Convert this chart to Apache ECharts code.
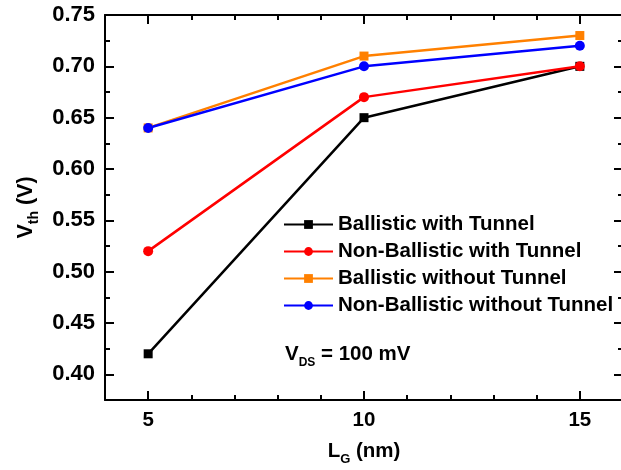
<!DOCTYPE html>
<html><head><meta charset="utf-8">
<script src="https://cdn.jsdelivr.net/npm/echarts@6/dist/echarts.min.js"></script>
<style>html,body{margin:0;padding:0;background:#fff}#c{width:621px;height:470px}</style>
</head><body><div id="c"></div>
<script>
const lengths = [5, 10, 15];
const ballisticTunnel = [0.42, 0.65, 0.70];
const nonBallisticTunnel = [0.52, 0.67, 0.70];
const ballisticNoTunnel = [0.64, 0.71, 0.73];
const nonBallisticNoTunnel = [0.64, 0.70, 0.72];
const seriesNames = ['Ballistic with Tunnel', 'Non-Ballistic with Tunnel', 'Ballistic without Tunnel', 'Non-Ballistic without Tunnel'];
const xTickLabels = [5, 10, 15];
const yTickLabels = [0.40, 0.45, 0.50, 0.55, 0.60, 0.65, 0.70, 0.75];

const FONT = 'Liberation Sans, Arial, sans-serif';
const chart = echarts.init(document.getElementById('c'), null, {renderer: 'canvas'});

const axLine = {show: true, onZero: false, lineStyle: {color: '#000', width: 2}};
const tickStyle = {color: '#000', width: 2};
const hiddenLabel = {show: true, color: 'rgba(0,0,0,0)', fontSize: 8};
function xAx(pos, grid, major, withLabel) {
  const a = {
    type: 'value', position: pos, gridIndex: grid, min: 4, max: 16,
    axisLine: major ? {show: false, onZero: false} : axLine,
    splitLine: {show: false},
    axisTick: {show: true, inside: true, length: major ? 9 : 5, lineStyle: tickStyle},
    axisLabel: Object.assign({}, hiddenLabel)
  };
  if (major) {
    a.axisTick.customValues = xTickLabels;
    a.axisLabel = withLabel
      ? {show: true, customValues: xTickLabels, margin: 10, color: '#000', fontSize: 20.5, fontWeight: 'bold', fontFamily: FONT}
      : Object.assign({customValues: xTickLabels}, hiddenLabel);
  } else {
    a.interval = 1;
  }
  return a;
}
function yAx(pos, grid, major, withLabel) {
  const a = {
    type: 'value', position: pos, gridIndex: grid, min: 0.375, max: 0.75,
    axisLine: major ? {show: false, onZero: false} : axLine,
    splitLine: {show: false},
    axisTick: {show: true, inside: true, length: major ? 9 : 5, lineStyle: tickStyle},
    axisLabel: Object.assign({}, hiddenLabel)
  };
  if (major) {
    a.axisTick.customValues = yTickLabels;
    a.axisLabel = withLabel
      ? {show: true, customValues: yTickLabels, margin: 10, color: '#000', fontSize: 22, fontWeight: 'bold', fontFamily: FONT, formatter: v => v.toFixed(2)}
      : Object.assign({customValues: yTickLabels}, hiddenLabel);
  } else {
    a.interval = 0.025;
  }
  return a;
}

const xAxes = [xAx('bottom', 0, false), xAx('top', 0, false), xAx('bottom', 1, true, true), xAx('top', 1, true, false)];
xAxes[2].name = '{v|L}{s|G}{v| (nm)}';
xAxes[2].nameLocation = 'middle';
xAxes[2].nameGap = 40;
xAxes[2].nameTextStyle = {rich: {
  v: {fontSize: 20.5, fontWeight: 'bold', fontFamily: FONT, color: '#000', lineHeight: 20},
  s: {fontSize: 13, fontWeight: 'bold', fontFamily: FONT, color: '#000', lineHeight: 13, padding: [17, 0, 0, 0]}
}};
const yAxes = [yAx('left', 0, false), yAx('right', 0, false), yAx('left', 1, true, true), yAx('right', 1, true, false)];
yAxes[2].name = '{v|V}{s|th}{v| (V)}';
yAxes[2].nameLocation = 'middle';
yAxes[2].nameGap = 66;
yAxes[2].nameTextStyle = {rich: {
  v: {fontSize: 21.5, fontWeight: 'bold', fontFamily: FONT, color: '#000', lineHeight: 21},
  s: {fontSize: 14, fontWeight: 'bold', fontFamily: FONT, color: '#000', lineHeight: 14, padding: [17, 0, 0, 0]}
}};

const allValues = [ballisticTunnel, nonBallisticTunnel, ballisticNoTunnel, nonBallisticNoTunnel];
const colors = ['#000000', '#FF0000', '#FF8000', '#0000FF'];
const symbols = ['rect', 'circle', 'rect', 'circle'];
const sizes = [9, 10, 9, 10];

const series = allValues.map((vals, i) => ({
  name: seriesNames[i], type: 'line', xAxisIndex: 0, yAxisIndex: 0,
  data: lengths.map((x, j) => [x, vals[j]]),
  symbol: symbols[i], symbolSize: sizes[i], showAllSymbol: true,
  lineStyle: {color: colors[i], width: 2.5},
  itemStyle: {color: colors[i]},
  emphasis: {disabled: true},
  animation: false
}));
series.push({type: 'line', xAxisIndex: 2, yAxisIndex: 2, data: [], silent: true});

const gridRect = {left: 105, top: 15, right: -2, bottom: 70, containLabel: false, outerBoundsMode: 'none'};
chart.setOption({
  backgroundColor: '#fff',
  animation: false,
  grid: [Object.assign({}, gridRect), Object.assign({}, gridRect)],
  xAxis: xAxes,
  yAxis: yAxes,
  legend: {
    orient: 'vertical', left: 283, top: 214, padding: 0,
    itemWidth: 49, itemHeight: 11, itemGap: 6,
    data: seriesNames,
    textStyle: {fontSize: 20.5, fontWeight: 'bold', fontFamily: FONT, color: '#000'}
  },
  graphic: [{
    type: 'text', left: 285, top: 340,
    style: {
      text: '{v|V}{s|DS}{v| = 100 mV}',
      rich: {
        v: {fontSize: 20.5, fontWeight: 'bold', fontFamily: FONT, fill: '#000', lineHeight: 20},
        s: {fontSize: 12, fontWeight: 'bold', fontFamily: FONT, fill: '#000', lineHeight: 12, padding: [17, 0, 0, 0]}
      }
    }
  }],
  series: series
});
</script></body></html>
